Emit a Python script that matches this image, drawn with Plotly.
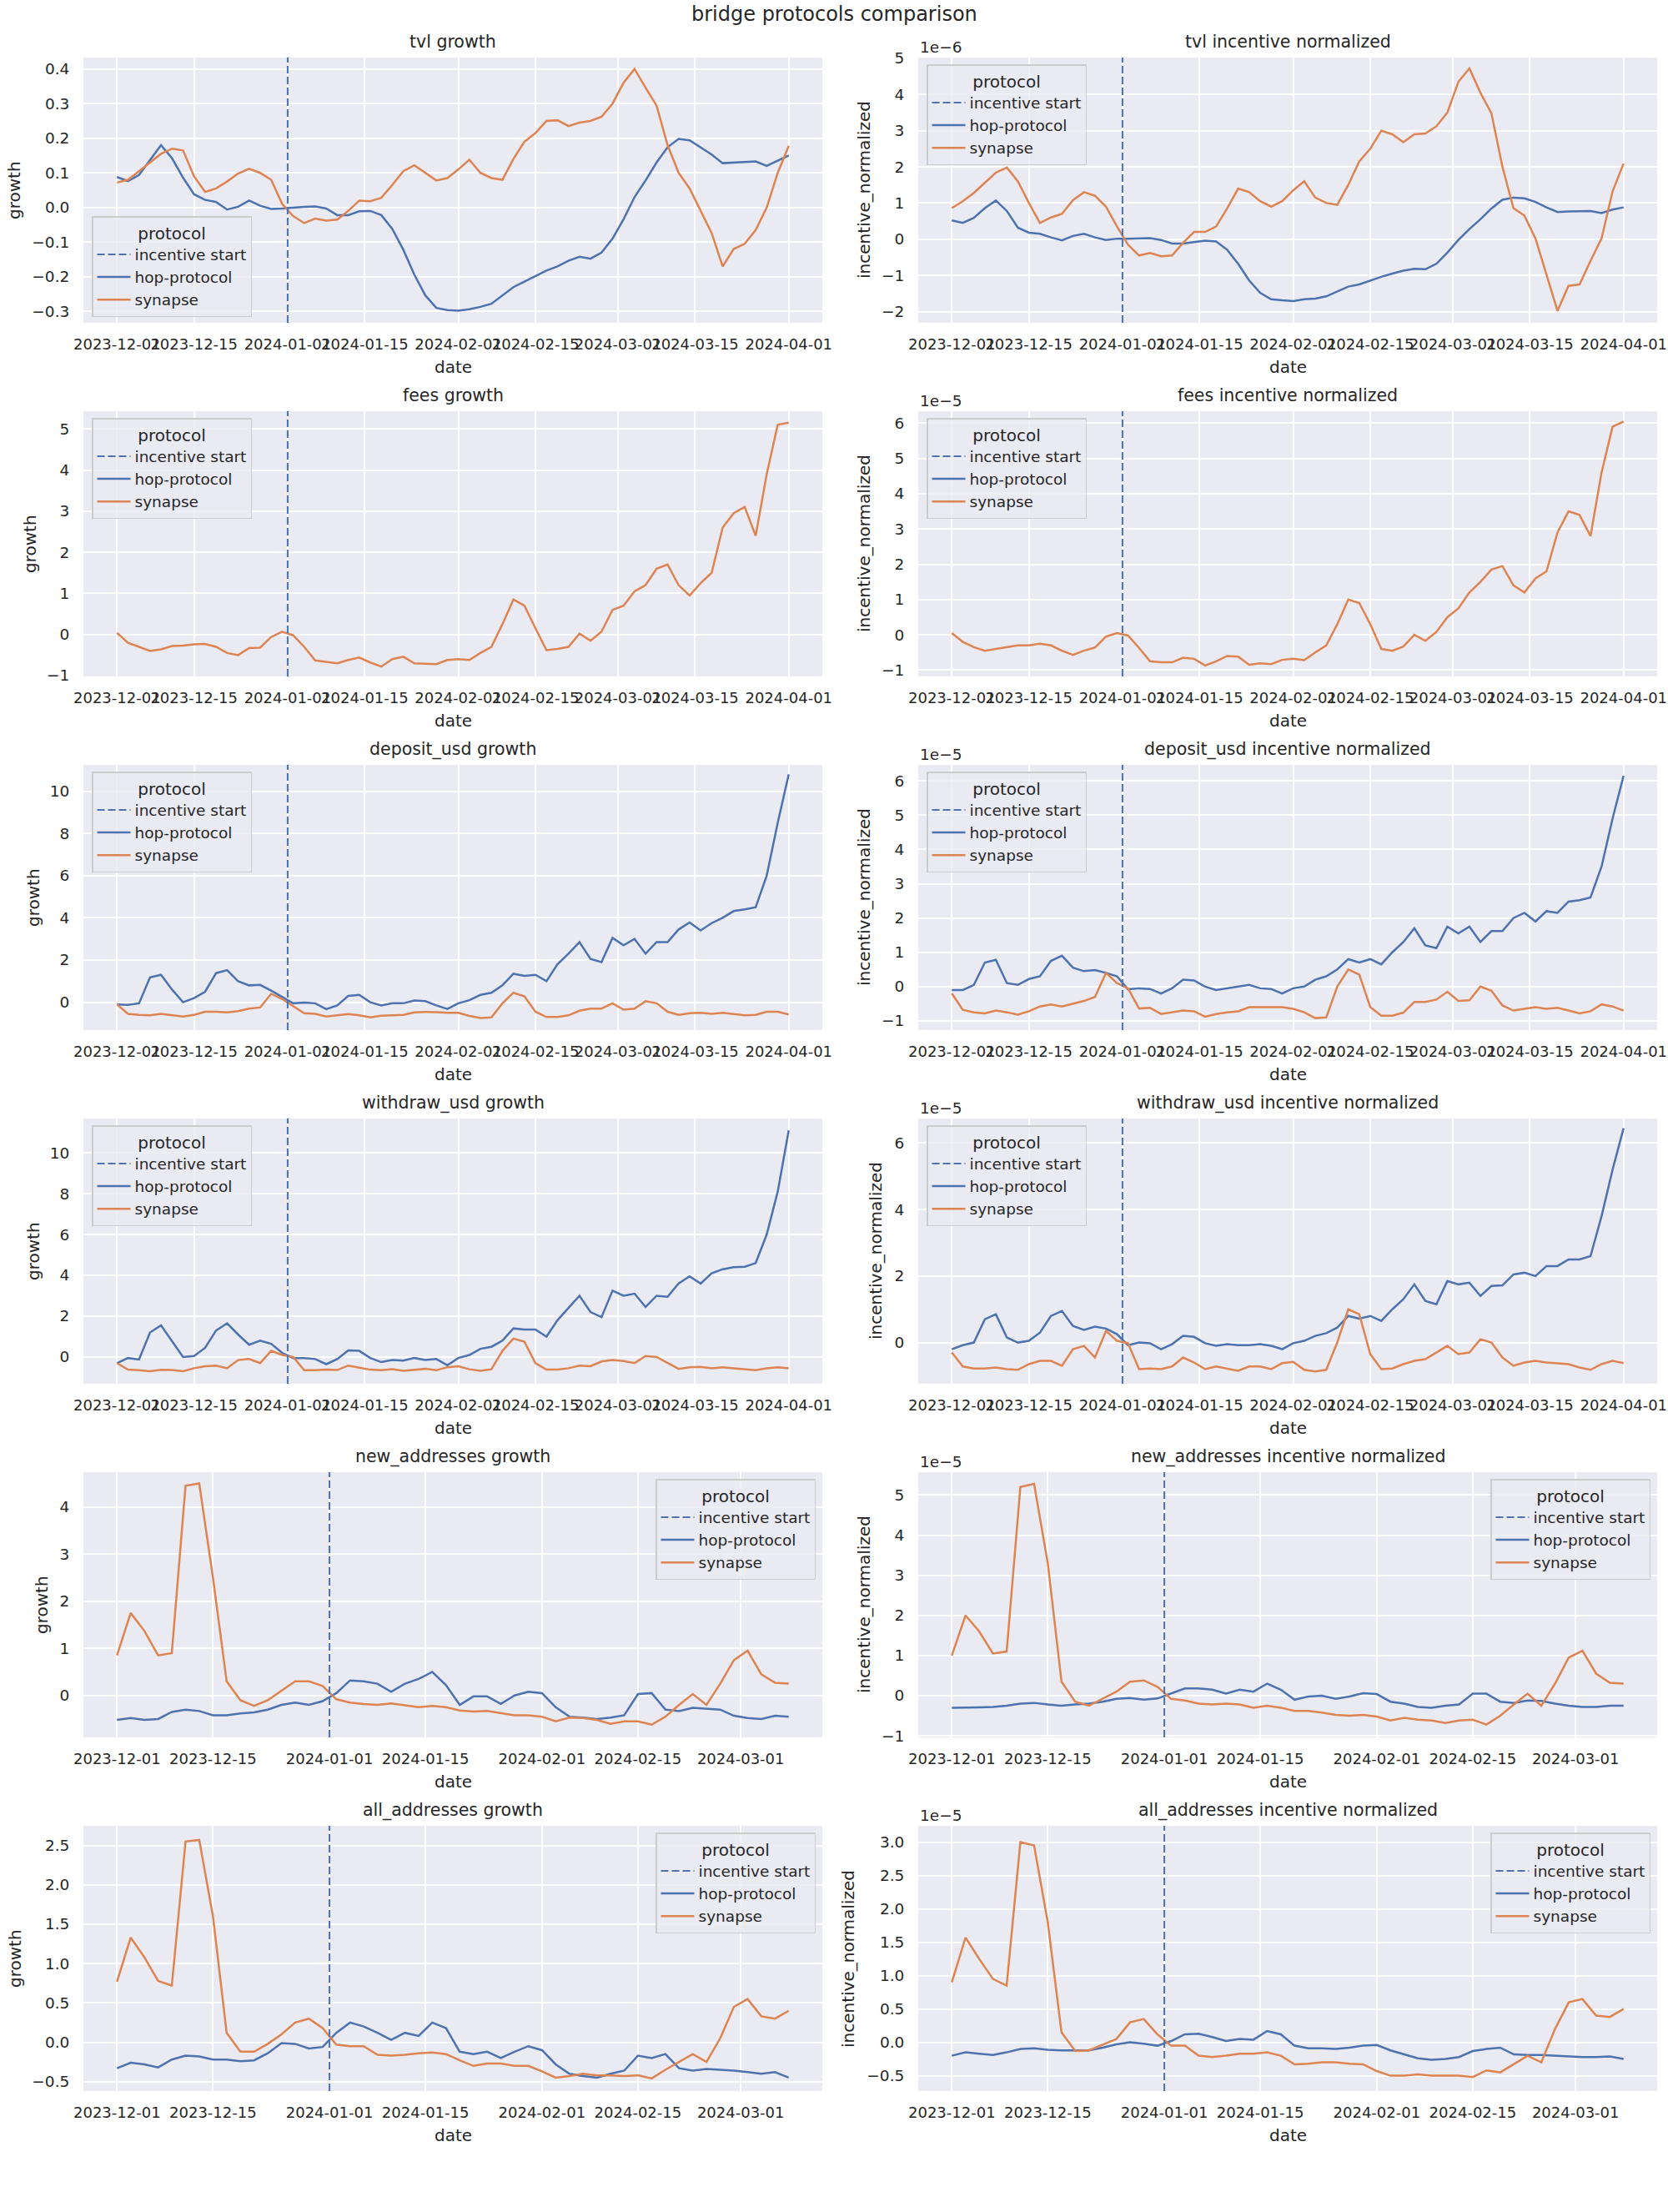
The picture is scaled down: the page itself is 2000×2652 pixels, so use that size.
import pandas as pd
import plotly.graph_objects as go

# ---------------- data ----------------
INCENTIVE_START = "2024-01-01"
dates_long = pd.date_range("2023-12-01", periods=62, freq="2D")   # 2023-12-01 .. 2024-04-01
dates_short = pd.date_range("2023-12-01", periods=50, freq="2D")  # 2023-12-01 .. 2024-03-08

x_ticks_long = ["2023-12-01", "2023-12-15", "2024-01-01", "2024-01-15", "2024-02-01",
                "2024-02-15", "2024-03-01", "2024-03-15", "2024-04-01"]
x_ticks_short = ["2023-12-01", "2023-12-15", "2024-01-01", "2024-01-15", "2024-02-01",
                 "2024-02-15", "2024-03-01"]

tvl_growth_hop = [0.088, 0.076, 0.094, 0.138, 0.18, 0.142, 0.086, 0.038, 0.022, 0.016,
                  -0.006, 0.002, 0.02, 0.005, -0.004, -0.003, 0.0, 0.002, 0.003, -0.003,
                  -0.022, -0.022, -0.011, -0.01, -0.022, -0.062, -0.122, -0.194, -0.254, -0.29,
                  -0.296, -0.298, -0.294, -0.287, -0.278, -0.254, -0.23, -0.214, -0.198, -0.182,
                  -0.17, -0.154, -0.142, -0.148, -0.13, -0.09, -0.034, 0.03, 0.078, 0.13,
                  0.174, 0.198, 0.194, 0.174, 0.153, 0.128, 0.13, 0.132, 0.133, 0.12,
                  0.136, 0.15]
tvl_growth_syn = [0.072, 0.08, 0.105, 0.13, 0.155, 0.17, 0.165, 0.09, 0.045, 0.055,
                  0.075, 0.098, 0.112, 0.1, 0.08, 0.01, -0.025, -0.045, -0.032, -0.038,
                  -0.035, -0.01, 0.02, 0.018, 0.028, 0.065, 0.105, 0.122, 0.1, 0.078,
                  0.085, 0.11, 0.138, 0.1, 0.085, 0.08, 0.14, 0.19, 0.215, 0.25,
                  0.252, 0.235, 0.245, 0.25, 0.262, 0.3, 0.36, 0.4, 0.346, 0.294,
                  0.18, 0.1, 0.055, -0.01, -0.074, -0.17, -0.12, -0.105, -0.065, 0.0,
                  0.1, 0.178]

tvl_norm_hop = [0.52, 0.45, 0.59, 0.86, 1.07, 0.78, 0.32, 0.18, 0.15, 0.05,
                -0.03, 0.09, 0.15, 0.05, -0.02, 0.015, 0.015, 0.03, 0.03, -0.02,
                -0.12, -0.12, -0.08, -0.04, -0.06, -0.29, -0.68, -1.14, -1.48, -1.66,
                -1.69, -1.71, -1.66, -1.64, -1.58, -1.45, -1.31, -1.25, -1.14, -1.04,
                -0.95, -0.87, -0.82, -0.83, -0.68, -0.37, -0.02, 0.28, 0.55, 0.85,
                1.09, 1.15, 1.13, 1.03, 0.88, 0.75, 0.77, 0.78, 0.78, 0.72,
                0.82, 0.88]
tvl_norm_syn = [0.86, 1.05, 1.28, 1.55, 1.84, 1.98, 1.6, 1.0, 0.45, 0.6,
                0.7, 1.08, 1.3, 1.2, 0.9, 0.35, -0.15, -0.45, -0.38, -0.47,
                -0.45, -0.1, 0.2, 0.2, 0.35, 0.85, 1.4, 1.3, 1.05, 0.9,
                1.05, 1.35, 1.6, 1.15, 1.0, 0.95, 1.5, 2.15, 2.5, 3.0,
                2.9, 2.68, 2.9, 2.92, 3.12, 3.5, 4.35, 4.72, 4.05, 3.48,
                2.0, 0.86, 0.65, 0.02, -0.98, -1.98, -1.29, -1.25, -0.6, 0.02,
                1.32, 2.09]

fees_growth_hop = []
fees_growth_syn = [0.04, -0.2, -0.3, -0.4, -0.36, -0.28, -0.27, -0.24, -0.23, -0.3,
                   -0.45, -0.5, -0.33, -0.32, -0.06, 0.07, -0.02, -0.3, -0.63, -0.66,
                   -0.7, -0.62, -0.56, -0.68, -0.78, -0.6, -0.54, -0.7, -0.71, -0.72,
                   -0.62, -0.6, -0.62, -0.45, -0.3, 0.25, 0.85, 0.7, 0.15, -0.38,
                   -0.35, -0.3, 0.02, -0.15, 0.07, 0.6, 0.7, 1.05, 1.2, 1.6,
                   1.7, 1.2, 0.95, 1.25, 1.5, 2.6, 2.95, 3.1, 2.4, 3.9,
                   5.1, 5.15]

fees_norm_hop = []
fees_norm_syn = [0.05, -0.2, -0.35, -0.45, -0.4, -0.35, -0.3, -0.3, -0.25, -0.3,
                 -0.45, -0.57, -0.45, -0.36, -0.05, 0.05, -0.02, -0.37, -0.75, -0.78,
                 -0.78, -0.65, -0.68, -0.87, -0.75, -0.6, -0.62, -0.85, -0.81, -0.83,
                 -0.71, -0.68, -0.72, -0.5, -0.3, 0.3, 1.0, 0.9, 0.3, -0.4,
                 -0.45, -0.33, 0.0, -0.17, 0.08, 0.5, 0.75, 1.2, 1.5, 1.85,
                 1.95, 1.4, 1.2, 1.6, 1.8, 2.9, 3.5, 3.4, 2.8, 4.6,
                 5.9, 6.05]

deposit_growth_hop = [-0.1, -0.12, -0.05, 1.18, 1.3, 0.6, 0.0, 0.2, 0.5, 1.38,
                      1.52, 1.0, 0.8, 0.82, 0.55, 0.25, -0.05, -0.02, -0.05, -0.33,
                      -0.15, 0.3, 0.35, 0.0, -0.15, -0.05, -0.05, 0.08, 0.05, -0.15,
                      -0.32, -0.05, 0.1, 0.35, 0.45, 0.8, 1.35, 1.25, 1.3, 1.0,
                      1.8, 2.3, 2.85, 2.05, 1.9, 3.05, 2.7, 3.0, 2.3, 2.85,
                      2.85, 3.45, 3.78, 3.4, 3.75, 4.0, 4.32, 4.4, 4.5, 6.0,
                      8.5, 10.8]
deposit_growth_syn = [-0.1, -0.55, -0.6, -0.62, -0.55, -0.6, -0.68, -0.6, -0.45, -0.45,
                      -0.48, -0.42, -0.3, -0.25, 0.4, 0.15, -0.2, -0.52, -0.55, -0.68,
                      -0.62, -0.56, -0.62, -0.72, -0.64, -0.62, -0.6, -0.48, -0.46, -0.47,
                      -0.5, -0.5, -0.65, -0.75, -0.72, -0.05, 0.45, 0.28, -0.45, -0.7,
                      -0.7, -0.62, -0.4, -0.3, -0.3, -0.05, -0.35, -0.3, 0.05, -0.05,
                      -0.45, -0.6, -0.52, -0.5, -0.55, -0.5, -0.56, -0.62, -0.6, -0.45,
                      -0.45, -0.58]

deposit_norm_hop = [-0.1, -0.1, 0.05, 0.7, 0.78, 0.1, 0.05, 0.22, 0.3, 0.75,
                    0.9, 0.55, 0.45, 0.48, 0.4, 0.3, -0.08, -0.05, -0.07, -0.2,
                    -0.05, 0.2, 0.18, 0.0, -0.1, -0.05, 0.0, 0.05, -0.05, -0.07,
                    -0.2, -0.05, 0.0, 0.2, 0.3, 0.5, 0.8, 0.7, 0.8, 0.65,
                    1.0, 1.3, 1.7, 1.2, 1.12, 1.75, 1.55, 1.75, 1.3, 1.62,
                    1.62, 2.0, 2.15, 1.9, 2.2, 2.15, 2.48, 2.52, 2.6, 3.5,
                    4.9, 6.15]
deposit_norm_syn = [-0.2, -0.68, -0.75, -0.78, -0.7, -0.75, -0.82, -0.72, -0.58, -0.52,
                    -0.58, -0.5, -0.42, -0.3, 0.4, 0.1, -0.05, -0.64, -0.62, -0.8,
                    -0.75, -0.7, -0.72, -0.88, -0.8, -0.75, -0.72, -0.6, -0.6, -0.6,
                    -0.6, -0.65, -0.75, -0.92, -0.9, 0.0, 0.5, 0.35, -0.6, -0.85,
                    -0.85, -0.76, -0.45, -0.45, -0.38, -0.15, -0.42, -0.4, 0.0, -0.12,
                    -0.55, -0.7, -0.65, -0.6, -0.65, -0.62, -0.7, -0.78, -0.72, -0.52,
                    -0.58, -0.7]

withdraw_growth_hop = [-0.3, -0.05, -0.12, 1.2, 1.55, 0.75, 0.0, 0.05, 0.45, 1.3,
                       1.65, 1.1, 0.6, 0.8, 0.65, 0.2, -0.05, -0.05, -0.1, -0.35,
                       -0.1, 0.32, 0.3, -0.05, -0.25, -0.15, -0.18, -0.05, -0.15, -0.1,
                       -0.4, -0.05, 0.1, 0.4, 0.5, 0.8, 1.4, 1.35, 1.35, 1.0,
                       1.8, 2.4, 3.0, 2.2, 1.95, 3.25, 3.0, 3.1, 2.45, 3.0,
                       2.95, 3.6, 3.95, 3.6, 4.1, 4.3, 4.4, 4.42, 4.6, 6.0,
                       8.1, 11.1]
withdraw_growth_syn = [-0.3, -0.62, -0.65, -0.7, -0.63, -0.64, -0.7, -0.55, -0.45, -0.42,
                       -0.55, -0.15, -0.1, -0.3, 0.3, 0.1, 0.0, -0.65, -0.65, -0.62,
                       -0.64, -0.42, -0.52, -0.62, -0.65, -0.6, -0.68, -0.62, -0.58, -0.65,
                       -0.5, -0.45, -0.6, -0.68, -0.6, 0.3, 0.9, 0.75, -0.3, -0.62,
                       -0.62, -0.55, -0.42, -0.45, -0.22, -0.15, -0.2, -0.3, 0.05, 0.0,
                       -0.3, -0.58, -0.5, -0.48, -0.55, -0.5, -0.55, -0.6, -0.65, -0.55,
                       -0.5, -0.55]

withdraw_norm_hop = [-0.2, -0.08, 0.0, 0.7, 0.85, 0.15, 0.0, 0.05, 0.3, 0.8,
                     0.95, 0.5, 0.38, 0.48, 0.42, 0.25, -0.08, 0.0, -0.02, -0.2,
                     -0.05, 0.2, 0.17, -0.02, -0.1, -0.05, -0.08, -0.08, -0.05, -0.1,
                     -0.2, -0.02, 0.05, 0.2, 0.28, 0.45, 0.8, 0.72, 0.8, 0.65,
                     1.0, 1.3, 1.75, 1.25, 1.15, 1.85, 1.75, 1.8, 1.4, 1.7,
                     1.72, 2.05, 2.1, 2.0, 2.3, 2.3, 2.5, 2.5, 2.6, 3.8,
                     5.2, 6.45]
withdraw_norm_syn = [-0.3, -0.72, -0.78, -0.78, -0.75, -0.8, -0.82, -0.65, -0.55, -0.55,
                     -0.7, -0.2, -0.1, -0.45, 0.35, 0.05, -0.02, -0.8, -0.78, -0.8,
                     -0.72, -0.45, -0.6, -0.8, -0.72, -0.78, -0.85, -0.72, -0.72, -0.8,
                     -0.62, -0.58, -0.82, -0.87, -0.82, 0.0, 1.0, 0.85, -0.35, -0.8,
                     -0.78, -0.65, -0.55, -0.5, -0.3, -0.1, -0.35, -0.3, 0.1, 0.0,
                     -0.45, -0.7, -0.6, -0.55, -0.6, -0.62, -0.65, -0.75, -0.82, -0.65,
                     -0.55, -0.62]

new_growth_hop = [-0.52, -0.48, -0.52, -0.5, -0.35, -0.3, -0.33, -0.42, -0.42, -0.38,
                  -0.36, -0.3, -0.2, -0.15, -0.2, -0.12, 0.05, 0.32, 0.3, 0.25,
                  0.08, 0.25, 0.35, 0.5, 0.22, -0.2, -0.02, -0.02, -0.18, 0.0,
                  0.08, 0.05, -0.25, -0.45, -0.47, -0.5, -0.47, -0.42, 0.03, 0.05,
                  -0.3, -0.33, -0.26, -0.28, -0.3, -0.43, -0.48, -0.5, -0.43, -0.45]
new_growth_syn = [0.85, 1.75, 1.37, 0.85, 0.9, 4.45, 4.5, 2.5, 0.3, -0.1,
                  -0.22, -0.1, 0.1, 0.3, 0.3, 0.2, -0.08, -0.15, -0.18, -0.2,
                  -0.17, -0.21, -0.25, -0.22, -0.25, -0.32, -0.34, -0.33, -0.37, -0.42,
                  -0.42, -0.45, -0.55, -0.47, -0.48, -0.52, -0.6, -0.55, -0.55, -0.62,
                  -0.45, -0.2, 0.03, -0.2, 0.25, 0.75, 0.95, 0.45, 0.27, 0.25]

new_norm_hop = [-0.3, -0.3, -0.29, -0.28, -0.25, -0.2, -0.18, -0.22, -0.25, -0.22,
                -0.2, -0.15, -0.08, -0.06, -0.1, -0.07, 0.05, 0.18, 0.18, 0.15,
                0.05, 0.15, 0.1, 0.3, 0.15, -0.1, -0.02, 0.0, -0.08, -0.02,
                0.06, 0.04, -0.15, -0.2, -0.28, -0.3, -0.25, -0.22, 0.05, 0.05,
                -0.15, -0.18, -0.12, -0.13, -0.2, -0.25, -0.28, -0.28, -0.25, -0.25]
new_norm_syn = [1.0, 2.0, 1.6, 1.05, 1.1, 5.2, 5.28, 3.3, 0.35, -0.15,
                -0.25, -0.08, 0.1, 0.35, 0.38, 0.22, -0.08, -0.12, -0.2, -0.22,
                -0.2, -0.22, -0.3, -0.25, -0.3, -0.38, -0.38, -0.42, -0.48, -0.5,
                -0.48, -0.52, -0.62, -0.55, -0.6, -0.62, -0.68, -0.62, -0.6, -0.72,
                -0.5, -0.22, 0.05, -0.25, 0.3, 0.95, 1.12, 0.55, 0.32, 0.3]

all_growth_hop = [-0.33, -0.26, -0.28, -0.32, -0.22, -0.17, -0.18, -0.22, -0.22, -0.24,
                  -0.23, -0.14, -0.01, -0.02, -0.08, -0.06, 0.12, 0.25, 0.2, 0.12,
                  0.03, 0.12, 0.08, 0.25, 0.18, -0.12, -0.15, -0.12, -0.2, -0.12,
                  -0.05, -0.1, -0.28, -0.4, -0.43, -0.45, -0.4, -0.36, -0.17, -0.2,
                  -0.15, -0.33, -0.36, -0.34, -0.35, -0.36, -0.38, -0.4, -0.38, -0.45]
all_growth_syn = [0.77, 1.33, 1.08, 0.78, 0.72, 2.55, 2.57, 1.6, 0.12, -0.12,
                  -0.12, -0.02, 0.1, 0.25, 0.3, 0.18, -0.03, -0.05, -0.05, -0.16,
                  -0.17, -0.16, -0.14, -0.13, -0.15, -0.23, -0.3, -0.27, -0.27, -0.3,
                  -0.3, -0.37, -0.45, -0.43, -0.4, -0.42, -0.42, -0.43, -0.42, -0.46,
                  -0.35, -0.25, -0.15, -0.25, 0.05, 0.45, 0.55, 0.33, 0.3, 0.4]

all_norm_hop = [-0.2, -0.15, -0.17, -0.19, -0.15, -0.1, -0.09, -0.11, -0.12, -0.12,
                -0.12, -0.08, -0.03, 0.0, -0.02, -0.05, 0.02, 0.12, 0.13, 0.08,
                0.02, 0.05, 0.04, 0.17, 0.12, -0.05, -0.09, -0.09, -0.1, -0.08,
                -0.05, -0.04, -0.12, -0.18, -0.24, -0.26, -0.25, -0.22, -0.13, -0.1,
                -0.08, -0.18, -0.19, -0.19, -0.2, -0.21, -0.22, -0.22, -0.21, -0.25]
all_norm_syn = [0.9, 1.57, 1.25, 0.95, 0.85, 3.0, 2.95, 1.8, 0.15, -0.13,
                -0.12, -0.03, 0.05, 0.3, 0.35, 0.12, -0.05, -0.05, -0.2, -0.22,
                -0.2, -0.17, -0.17, -0.15, -0.2, -0.33, -0.32, -0.3, -0.3, -0.32,
                -0.33, -0.43, -0.5, -0.5, -0.48, -0.5, -0.5, -0.5, -0.52, -0.42,
                -0.45, -0.33, -0.2, -0.3, 0.2, 0.6, 0.65, 0.4, 0.38, 0.5]

# y ticks (display units)
tvl_growth_yticks = [-0.3, -0.2, -0.1, 0.0, 0.1, 0.2, 0.3, 0.4]
tvl_norm_yticks = [-2, -1, 0, 1, 2, 3, 4, 5]
fees_growth_yticks = [-1, 0, 1, 2, 3, 4, 5]
fees_norm_yticks = [-1, 0, 1, 2, 3, 4, 5, 6]
deposit_growth_yticks = [0, 2, 4, 6, 8, 10]
deposit_norm_yticks = [-1, 0, 1, 2, 3, 4, 5, 6]
withdraw_growth_yticks = [0, 2, 4, 6, 8, 10]
withdraw_norm_yticks = [0, 2, 4, 6]
new_growth_yticks = [0, 1, 2, 3, 4]
new_norm_yticks = [-1, 0, 1, 2, 3, 4, 5]
all_growth_yticks = [-0.5, 0.0, 0.5, 1.0, 1.5, 2.0, 2.5]
all_norm_yticks = [-0.5, 0.0, 0.5, 1.0, 1.5, 2.0, 2.5, 3.0]

panels = [
    dict(title="tvl growth", ylabel="growth", long=True, hop=tvl_growth_hop, syn=tvl_growth_syn,
         scale=1, offset=None, yr=[-0.333, 0.433], yt=tvl_growth_yticks, nd=1, leg="ll"),
    dict(title="tvl incentive normalized", ylabel="incentive_normalized", long=True, hop=tvl_norm_hop,
         syn=tvl_norm_syn, scale=1e-6, offset="1e\u22126", yr=[-2.31, 5.02], yt=tvl_norm_yticks, nd=0, leg="ul"),
    dict(title="fees growth", ylabel="growth", long=True, hop=fees_growth_hop, syn=fees_growth_syn,
         scale=1, offset=None, yr=[-1.02, 5.43], yt=fees_growth_yticks, nd=0, leg="ul"),
    dict(title="fees incentive normalized", ylabel="incentive_normalized", long=True, hop=fees_norm_hop,
         syn=fees_norm_syn, scale=1e-5, offset="1e\u22125", yr=[-1.18, 6.34], yt=fees_norm_yticks, nd=0, leg="ul"),
    dict(title="deposit_usd growth", ylabel="growth", long=True, hop=deposit_growth_hop, syn=deposit_growth_syn,
         scale=1, offset=None, yr=[-1.32, 11.25], yt=deposit_growth_yticks, nd=0, leg="ul"),
    dict(title="deposit_usd incentive normalized", ylabel="incentive_normalized", long=True, hop=deposit_norm_hop,
         syn=deposit_norm_syn, scale=1e-5, offset="1e\u22125", yr=[-1.27, 6.47], yt=deposit_norm_yticks, nd=0, leg="ul"),
    dict(title="withdraw_usd growth", ylabel="growth", long=True, hop=withdraw_growth_hop, syn=withdraw_growth_syn,
         scale=1, offset=None, yr=[-1.31, 11.68], yt=withdraw_growth_yticks, nd=0, leg="ul"),
    dict(title="withdraw_usd incentive normalized", ylabel="incentive_normalized", long=True, hop=withdraw_norm_hop,
         syn=withdraw_norm_syn, scale=1e-5, offset="1e\u22125", yr=[-1.24, 6.74], yt=withdraw_norm_yticks, nd=0, leg="ul"),
    dict(title="new_addresses growth", ylabel="growth", long=False, hop=new_growth_hop, syn=new_growth_syn,
         scale=1, offset=None, yr=[-0.89, 4.74], yt=new_growth_yticks, nd=0, leg="ur"),
    dict(title="new_addresses incentive normalized", ylabel="incentive_normalized", long=False, hop=new_norm_hop,
         syn=new_norm_syn, scale=1e-5, offset="1e\u22125", yr=[-1.04, 5.57], yt=new_norm_yticks, nd=0, leg="ur"),
    dict(title="all_addresses growth", ylabel="growth", long=False, hop=all_growth_hop, syn=all_growth_syn,
         scale=1, offset=None, yr=[-0.62, 2.75], yt=all_growth_yticks, nd=1, leg="ur"),
    dict(title="all_addresses incentive normalized", ylabel="incentive_normalized", long=False, hop=all_norm_hop,
         syn=all_norm_syn, scale=1e-5, offset="1e\u22125", yr=[-0.73, 3.245], yt=all_norm_yticks, nd=1, leg="ur"),
]

# ---------------- style / geometry ----------------
W, H = 2000, 2652
FONT = "DejaVu Sans"
TXT = "#262626"
BLUE = "#4C72B0"
ORANGE = "#DD8452"
BG = "#EAEAF2"
PLOT_LEFT = [100, 1101]
PLOT_W = 886
PLOT_TOP0 = 69
ROW_STEP = 424
PLOT_H = 318
YLABEL_X = [[17, 1036], [36, 1036], [40, 1036], [40, 1050], [50, 1036], [18, 1017]]


def fx(px):
    return px / W


def fy(py):
    return 1 - py / H


def fmt(v, nd):
    return f"{v:.{nd}f}".replace("-", "\u2212")


fig = go.Figure()
layout = dict(
    width=W, height=H, paper_bgcolor="white", plot_bgcolor=BG, autosize=False,
    margin=dict(l=0, r=0, t=0, b=0, autoexpand=False), font=dict(family=FONT, color=TXT),
    showlegend=True,
)

annotations = [dict(text="bridge protocols comparison", x=fx(1000), y=fy(17), xref="paper", yref="paper",
                    showarrow=False, xanchor="center", yanchor="middle", font=dict(size=24, family=FONT, color=TXT))]
shapes = []

for k, p in enumerate(panels):
    row, col = divmod(k, 2)
    n = "" if k == 0 else str(k + 1)
    xa, ya = "x" + n, "y" + n
    leg = "legend" + n
    left = PLOT_LEFT[col]
    right = left + PLOT_W
    top = PLOT_TOP0 + row * ROW_STEP
    bottom = top + PLOT_H
    dates = dates_long if p["long"] else dates_short
    ticks = x_ticks_long if p["long"] else x_ticks_short
    span = dates[-1] - dates[0]
    xr = [(dates[0] - span * 0.05).isoformat(), (dates[-1] + span * 0.05).isoformat()]
    s = p["scale"]

    layout["xaxis" + n] = dict(
        domain=[fx(left), fx(right)], anchor=ya, type="date", range=xr, automargin=False,
        tickmode="array", tickvals=ticks, ticktext=ticks, tickangle=0, ticklabeloverflow="allow",
        showgrid=True, gridcolor="white", gridwidth=1.8, zeroline=False, showline=False,
        ticks="outside", ticklen=9, tickcolor="rgba(0,0,0,0)",
        tickfont=dict(size=18, family=FONT, color=TXT),
    )
    layout["yaxis" + n] = dict(
        domain=[fy(bottom), fy(top)], anchor=xa, range=[p["yr"][0] * s, p["yr"][1] * s], automargin=False,
        tickmode="array", tickvals=[v * s for v in p["yt"]], ticktext=[fmt(v, p["nd"]) for v in p["yt"]],
        ticklabeloverflow="allow",
        showgrid=True, gridcolor="white", gridwidth=1.8, zeroline=False, showline=False,
        ticks="outside", ticklen=12, tickcolor="rgba(0,0,0,0)",
        tickfont=dict(size=18.5, family=FONT, color=TXT),
    )

    if p["leg"] == "ll":
        lx, ly, xan, yan = left + 10, bottom - 7, "left", "bottom"
    elif p["leg"] == "ul":
        lx, ly, xan, yan = left + 10, top + 8, "left", "top"
    else:
        lx, ly, xan, yan = right - 8, top + 8, "right", "top"
    layout[leg] = dict(
        x=fx(lx), y=fy(ly), xanchor=xan, yanchor=yan, xref="paper", yref="paper",
        bgcolor="rgba(234,234,242,0.8)", bordercolor="#CCCCCC", borderwidth=1.5,
        font=dict(size=18.5, family=FONT, color=TXT),
        title=dict(text="protocol", side="top center", font=dict(size=20, family=FONT, color=TXT)),
        tracegroupgap=0, itemwidth=40,
    )

    fig.add_trace(go.Scatter(x=[None], y=[None], mode="lines", name="incentive start",
                             line=dict(color=BLUE, width=2, dash="9px,4px"),
                             xaxis=xa, yaxis=ya, legend=leg, hoverinfo="skip"))
    shapes.append(dict(type="line", xref=xa, yref=ya + " domain", x0=INCENTIVE_START, x1=INCENTIVE_START,
                       y0=0, y1=1, layer="above", line=dict(color=BLUE, width=2, dash="9px,4px")))

    hop = p["hop"]
    fig.add_trace(go.Scatter(x=list(dates) if hop else [None], y=[v * s for v in hop] if hop else [None],
                             mode="lines", name="hop-protocol", line=dict(color=BLUE, width=2.5),
                             xaxis=xa, yaxis=ya, legend=leg))
    fig.add_trace(go.Scatter(x=list(dates), y=[v * s for v in p["syn"]],
                             mode="lines", name="synapse", line=dict(color=ORANGE, width=2.5),
                             xaxis=xa, yaxis=ya, legend=leg))

    cx = (left + right) / 2
    annotations.append(dict(text=p["title"], x=fx(cx), y=fy(top - 19), xref="paper", yref="paper",
                            showarrow=False, xanchor="center", yanchor="middle",
                            font=dict(size=20.5, family=FONT, color=TXT)))
    annotations.append(dict(text="date", x=fx(cx), y=fy(bottom + 53), xref="paper", yref="paper",
                            showarrow=False, xanchor="center", yanchor="middle",
                            font=dict(size=20, family=FONT, color=TXT)))
    annotations.append(dict(text=p["ylabel"], x=fx(YLABEL_X[row][col]), y=fy((top + bottom) / 2),
                            xref="paper", yref="paper", showarrow=False, textangle=-90,
                            xanchor="center", yanchor="middle", font=dict(size=20, family=FONT, color=TXT)))
    if p["offset"]:
        annotations.append(dict(text=p["offset"], x=fx(left), y=fy(top - 13), xref="paper", yref="paper",
                                showarrow=False, xanchor="left", yanchor="middle",
                                font=dict(size=18.5, family=FONT, color=TXT)))

layout["annotations"] = annotations
layout["shapes"] = shapes
fig.update_layout(**layout)
fig.write_html("out.html")
